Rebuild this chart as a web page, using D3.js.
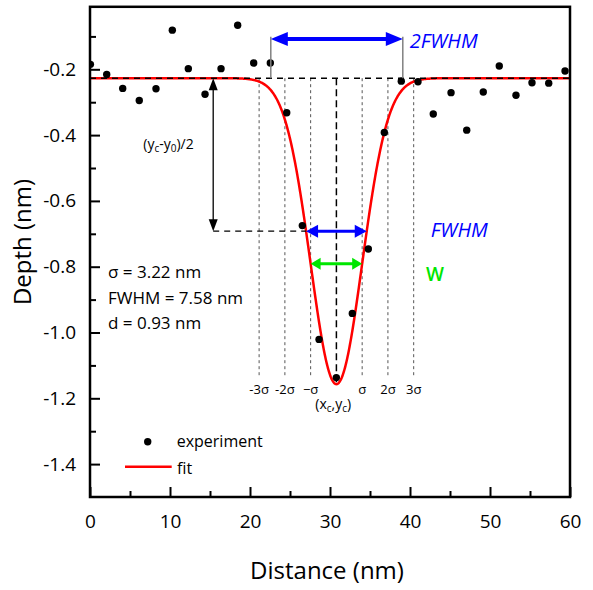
<!DOCTYPE html>
<html>
<head>
<meta charset="utf-8">
<script src="https://cdn.jsdelivr.net/npm/d3@7"></script>
<style>
  body { margin: 0; background: #fff; }
  svg { display: block; }
  text { font-family: "Open Sans", "Noto Sans", sans-serif; fill: #000; }
</style>
</head>
<body>
<svg id="chart" width="593" height="590"></svg>
<script>
// Measured depth profile across the pit (nm)
const distance = [0.05, 2.09, 4.09, 6.16, 8.25, 10.29, 12.29, 14.38, 16.38, 18.46,
                  20.46, 22.54, 24.59, 26.54, 28.63, 30.79, 32.79, 34.79, 36.79, 38.91,
                  41.00, 42.91, 45.13, 47.09, 49.16, 51.16, 53.25, 55.25, 57.34, 59.38];
const depth = [-0.185, -0.216, -0.258, -0.295, -0.259, -0.081, -0.198, -0.276, -0.198, -0.066,
               -0.181, -0.181, -0.332, -0.675, -1.021, -1.137, -0.942, -0.746, -0.392, -0.236,
               -0.238, -0.336, -0.271, -0.385, -0.269, -0.190, -0.279, -0.241, -0.242, -0.205];

// Gaussian fit parameters
const fitY0 = -0.227;   // baseline y0
const fitXc = 30.8;     // centre xc
const fitSigma = 3.22;  // sigma (nm)
const fitFwhm = 7.58;   // FWHM (nm)
const fitDepth = 0.93;  // d (nm)

// Axis ticks
const xTicks = [0, 10, 20, 30, 40, 50, 60];
const xMinorTicks = [5, 15, 25, 35, 45, 55];
const yTicks = [-0.2, -0.4, -0.6, -0.8, -1.0, -1.2, -1.4];
const yMinorTicks = [-0.1, -0.3, -0.5, -0.7, -0.9, -1.1, -1.3];

// Annotation content
const sigmaSteps = [-3, -2, -1, 1, 2, 3];
const sigmaLabels = ["-3σ", "-2σ", "−σ", "σ", "2σ", "3σ"];
const statLines = ["σ = 3.22 nm", "FWHM = 7.58 nm", "d = 0.93 nm"];
const twoFwhmEnds = [22.6, 39.1];

const svg = d3.select("#chart");
svg.append("rect").attr("width", 593).attr("height", 590).attr("fill", "#fff");

const plotLeft = 90, plotRight = 570, plotTop = 6.8, plotBottom = 497;
const x = d3.scaleLinear().domain([0, 60]).range([plotLeft, plotRight]);
const y = d3.scaleLinear().domain([-1.5, -0.01]).range([plotBottom, plotTop]);

const gauss = v => fitY0 - fitDepth * Math.exp(-((v - fitXc) ** 2) / (2 * fitSigma ** 2));

svg.append("defs").append("clipPath").attr("id", "plotClip")
  .append("rect").attr("x", plotLeft).attr("y", plotTop)
  .attr("width", plotRight - plotLeft).attr("height", plotBottom - plotTop);

const plot = svg.append("g").attr("clip-path", "url(#plotClip)");

// Arrow helper: shaft plus filled heads at one or both ends
function arrow(g, x1, y1, x2, y2, color, width, headLen, headW, both) {
  const ang = Math.atan2(y2 - y1, x2 - x1);
  const ux = Math.cos(ang), uy = Math.sin(ang);
  const sx1 = both ? x1 + ux * headLen * 0.8 : x1;
  const sy1 = both ? y1 + uy * headLen * 0.8 : y1;
  g.append("line").attr("x1", sx1).attr("y1", sy1)
    .attr("x2", x2 - ux * headLen * 0.8).attr("y2", y2 - uy * headLen * 0.8)
    .attr("stroke", color).attr("stroke-width", width);
  const head = (tx, ty, dx, dy) => {
    const bx = tx - dx * headLen, by = ty - dy * headLen;
    const px = -dy * headW / 2, py = dx * headW / 2;
    g.append("path")
      .attr("d", `M${tx},${ty}L${bx + px},${by + py}L${bx - px},${by - py}Z`)
      .attr("fill", color);
  };
  head(x2, y2, ux, uy);
  if (both) head(x1, y1, -ux, -uy);
}

// Sigma guide lines
const sigmaBottom = -1.13;
plot.append("g").selectAll("line").data(sigmaSteps).join("line")
  .attr("x1", k => x(fitXc + k * fitSigma)).attr("x2", k => x(fitXc + k * fitSigma))
  .attr("y1", y(fitY0)).attr("y2", y(sigmaBottom))
  .attr("stroke", "#555").attr("stroke-width", 1).attr("stroke-dasharray", "3,3");

// Centre line down to the minimum
plot.append("line")
  .attr("x1", x(fitXc)).attr("x2", x(fitXc))
  .attr("y1", y(fitY0)).attr("y2", y(fitY0 - fitDepth))
  .attr("stroke", "#000").attr("stroke-width", 1.5).attr("stroke-dasharray", "7,4");

// Fit curve
const curveX = d3.range(0, 60.001, 0.05);
plot.append("path")
  .datum(curveX)
  .attr("d", d3.line().x(v => x(v)).y(v => y(gauss(v))))
  .attr("fill", "none").attr("stroke", "#ff0000").attr("stroke-width", 2.5);

// Baseline y0 dashed across the whole range
plot.append("line")
  .attr("x1", x(0)).attr("x2", x(60)).attr("y1", y(fitY0)).attr("y2", y(fitY0))
  .attr("stroke", "#000").attr("stroke-width", 1.4).attr("stroke-dasharray", "6,5");

// Half-depth dashed line
const arrowX = 15.4;
const halfLevel = fitY0 - fitDepth / 2;
plot.append("line")
  .attr("x1", x(arrowX)).attr("x2", x(fitXc - fitFwhm / 2))
  .attr("y1", y(halfLevel)).attr("y2", y(halfLevel))
  .attr("stroke", "#000").attr("stroke-width", 1.4).attr("stroke-dasharray", "6,5");

// Experimental points
plot.append("g").selectAll("circle").data(distance).join("circle")
  .attr("cx", d => x(d)).attr("cy", (d, i) => y(depth[i]))
  .attr("r", 3.7).attr("fill", "#000");

const ann = svg.append("g");

// (yc - y0)/2 arrow
arrow(ann, x(arrowX), y(fitY0), x(arrowX), y(halfLevel), "#000", 1.3, 12, 9, true);

// FWHM arrow
arrow(ann, x(fitXc - fitFwhm / 2), y(halfLevel), x(fitXc + fitFwhm / 2), y(halfLevel), "#0000ff", 3, 12, 13, true);

// W arrow between ±sigma
const wLevel = gauss(fitXc + fitSigma);
arrow(ann, x(fitXc - fitSigma), y(wLevel), x(fitXc + fitSigma), y(wLevel), "#00e600", 3, 10, 12, true);

// 2FWHM bracket
const bracketTop = -0.101, bracketLevel = -0.108;
twoFwhmEnds.forEach(v => {
  ann.append("line").attr("x1", x(v)).attr("x2", x(v))
    .attr("y1", y(bracketTop)).attr("y2", y(fitY0))
    .attr("stroke", "#808080").attr("stroke-width", 1.5);
});
arrow(ann, x(twoFwhmEnds[0]), y(bracketLevel), x(twoFwhmEnds[1]), y(bracketLevel), "#0000ff", 4, 17, 14, true);

// Labels
ann.append("text").attr("x", x(39.96)).attr("y", y(-0.135))
  .attr("font-size", 20).attr("font-style", "italic").style("fill", "#0000ff").text("2FWHM");
ann.append("text").attr("x", x(42.6)).attr("y", y(-0.711))
  .attr("font-size", 20).attr("font-style", "italic").style("fill", "#0000ff").text("FWHM");
ann.append("text").attr("x", x(42.0)).attr("y", y(-0.843))
  .attr("font-size", 19).attr("font-weight", 600).style("fill", "#00e600").text("W");

// (yc-y0)/2
const hl = ann.append("text").attr("x", x(6.66)).attr("y", y(-0.442)).attr("font-size", 14);
hl.append("tspan").text("(y");
hl.append("tspan").attr("font-size", 10).attr("dy", 3).text("c");
hl.append("tspan").attr("dy", -3).text("-y");
hl.append("tspan").attr("font-size", 10).attr("dy", 3).text("0");
hl.append("tspan").attr("dy", -3).text(")/2");

// sigma labels
ann.append("g").selectAll("text").data(sigmaSteps).join("text")
  .attr("x", k => x(fitXc + k * fitSigma)).attr("y", y(-1.187))
  .attr("text-anchor", "middle").attr("font-size", 13)
  .text((k, i) => sigmaLabels[i]);

// (xc,yc)
const cl = ann.append("text").attr("x", x(30.4)).attr("y", y(-1.232))
  .attr("text-anchor", "middle").attr("font-size", 14);
cl.append("tspan").text("(x");
cl.append("tspan").attr("font-size", 10).attr("dy", 3).text("c");
cl.append("tspan").attr("dy", -3).text(",y");
cl.append("tspan").attr("font-size", 10).attr("dy", 3).text("c");
cl.append("tspan").attr("dy", -3).text(")");

// Fit statistics
ann.append("g").selectAll("text").data(statLines).join("text")
  .attr("x", x(2.25)).attr("y", (d, i) => y(-0.834 - i * 0.078))
  .attr("font-size", 17).text(d => d);

// Axes
const axG = svg.append("g");
axG.append("g").attr("transform", `translate(0,${plotBottom})`)
  .call(d3.axisBottom(x).tickValues(xTicks).tickSize(-10).tickPadding(18).tickFormat(d3.format("d")));
axG.append("g").attr("transform", `translate(0,${plotBottom})`)
  .call(d3.axisBottom(x).tickValues(xMinorTicks).tickSize(-6).tickFormat(""));
const yAxis = axG.append("g").attr("transform", `translate(${plotLeft},0)`)
  .call(d3.axisLeft(y).tickValues(yTicks).tickSize(-10).tickPadding(14).tickFormat(d3.format(".1f")));
axG.append("g").attr("transform", `translate(${plotLeft},0)`)
  .call(d3.axisLeft(y).tickValues(yMinorTicks).tickSize(-6).tickFormat(""));
axG.selectAll(".domain").remove();
axG.selectAll(".tick line").attr("stroke", "#000").attr("stroke-width", 2);
axG.selectAll(".tick text").attr("font-size", 19).attr("font-family", "'Open Sans', sans-serif").style("fill", "#000");
yAxis.selectAll(".tick text").text(d => d3.format(".1f")(d).replace("−", "-"));

// Frame
svg.append("rect").attr("x", plotLeft).attr("y", plotTop)
  .attr("width", plotRight - plotLeft).attr("height", plotBottom - plotTop)
  .attr("fill", "none").attr("stroke", "#000").attr("stroke-width", 2.5);

// Axis titles
svg.append("text").attr("x", 327).attr("y", 579).attr("text-anchor", "middle")
  .attr("font-size", 24).text("Distance (nm)");
svg.append("text").attr("transform", "translate(31,242) rotate(-90)").attr("text-anchor", "middle")
  .attr("font-size", 24).text("Depth (nm)");

// Legend
const lg = svg.append("g");
lg.append("circle").attr("cx", plotLeft + 57.7).attr("cy", 441.7).attr("r", 3.7).attr("fill", "#000");
lg.append("text").attr("x", plotLeft + 86.7).attr("y", 446.7).attr("font-size", 16).text("experiment");
lg.append("line").attr("x1", plotLeft + 35).attr("x2", plotLeft + 81.7).attr("y1", 466.7).attr("y2", 466.7)
  .attr("stroke", "#ff0000").attr("stroke-width", 2.5);
lg.append("text").attr("x", plotLeft + 87).attr("y", 474).attr("font-size", 16).text("fit");
</script>
</body>
</html>
